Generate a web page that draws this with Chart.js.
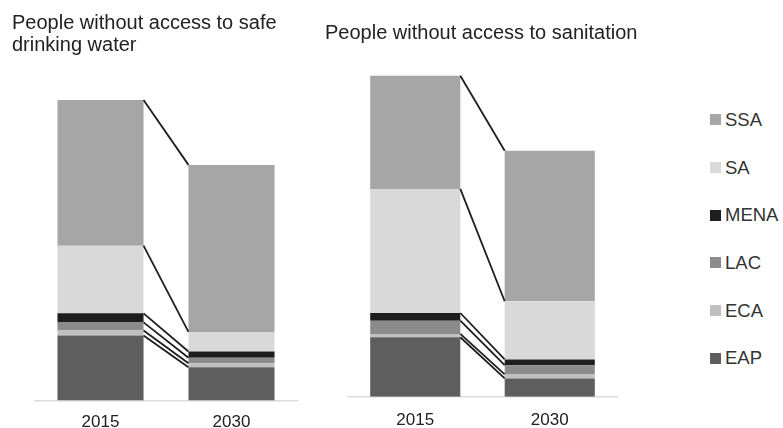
<!DOCTYPE html>
<html>
<head>
<meta charset="utf-8">
<script src="https://cdn.jsdelivr.net/npm/chart.js@4/dist/chart.umd.min.js"></script>
<style>
  html, body { margin: 0; padding: 0; background: #fff; overflow: hidden; }
  #wrap { position: relative; width: 783px; height: 428px; }
  #c1 { position: absolute; left: 0; top: 0; }
  #c2 { position: absolute; left: 320px; top: 0; }
  #legend { position: absolute; left: 710px; top: 96px; font-family: "Liberation Sans", Arial, sans-serif; font-size: 18.5px; color: #333; }
  #legend div { height: 47.7px; display: flex; align-items: center; }
  #legend span.box { display: inline-block; width: 11px; height: 11px; margin-right: 4px; }
</style>
</head>
<body>
<div id="wrap">
  <canvas id="c1" width="320" height="428"></canvas>
  <canvas id="c2" width="320" height="428"></canvas>
  <div id="legend"></div>
</div>
<script>
// millions of people
const years = ['2015', '2030'];
const regions = ['EAP', 'ECA', 'LAC', 'MENA', 'SA', 'SSA'];
const regionColors = ['#5e5e5e', '#c0c0c0', '#8b8b8b', '#1e1e1e', '#d9d9d9', '#a6a6a6'];

const water2015 = [143, 11, 18, 20, 149, 321];
const water2030 = [73, 9, 12, 14, 43, 368];
const sanitation2015 = [445, 25, 99, 57, 927, 845];
const sanitation2030 = [137, 30, 69, 43, 435, 1124];

const FONT = '"Liberation Sans", Arial, sans-serif';

// lines joining the top of each segment between the two bars
const connectors = {
    id: 'connectors',
    afterDatasetsDraw(chart) {
        const ctx = chart.ctx;
        ctx.save();
        ctx.strokeStyle = '#1e1e1e';
        ctx.lineWidth = 1.8;
        chart.data.datasets.forEach((ds, i) => {
            const bars = chart.getDatasetMeta(i).data;
            const a = bars[0], b = bars[1];
            ctx.beginPath();
            ctx.moveTo(a.x + a.width / 2, a.y);
            ctx.lineTo(b.x - b.width / 2, b.y);
            ctx.stroke();
        });
        ctx.restore();
    }
};

// empty side axes just to reserve space next to the plot
function spacer(position, width) {
    return {
        position,
        display: true,
        grid: { display: false },
        border: { display: false },
        ticks: { display: false },
        afterFit(scale) { scale.width = width; }
    };
}

function makeChart(id, title, first, second, opts) {
    const datasets = regions.map((r, i) => ({
        label: r,
        data: [first[i], second[i]],
        backgroundColor: regionColors[i],
        borderWidth: 0,
        categoryPercentage: 1,
        barPercentage: opts.barPct
    }));
    return new Chart(document.getElementById(id), {
        type: 'bar',
        data: { labels: years, datasets },
        plugins: [connectors],
        options: {
            responsive: false,
            animation: false,
            layout: { padding: { left: opts.padLeft, right: 0, top: 0, bottom: opts.padBottom } },
            plugins: {
                legend: { display: false },
                tooltip: { enabled: false },
                title: {
                    display: true,
                    text: title,
                    align: 'start',
                    color: '#222',
                    font: { family: FONT, size: 20, weight: 'normal', lineHeight: 1.1 },
                    padding: opts.titlePad
                }
            },
            scales: {
                x: {
                    stacked: true,
                    grid: { display: false, drawTicks: false },
                    border: { display: true, color: '#dcdcdc', width: 1.5 },
                    ticks: { color: '#222', padding: opts.tickPad, font: { family: FONT, size: 17, lineHeight: 1 } }
                },
                y: Object.assign(spacer('left', 23), { stacked: true, min: 0, max: opts.max }),
                yRight: spacer('right', 23)
            }
        }
    });
}

makeChart('c1', ['People without access to safe', 'drinking water'], water2015, water2030,
    { barPct: 0.657, padLeft: 12, padBottom: -16.5, max: 728, tickPad: 13.5,
      titlePad: { top: 12, bottom: 14 } });
makeChart('c2', 'People without access to sanitation', sanitation2015, sanitation2030,
    { barPct: 0.67, padLeft: 5, padBottom: -15.8, max: 2516, tickPad: 15,
      titlePad: { top: 22, bottom: 16 } });

// legend, top to bottom in reverse stack order
const legend = document.getElementById('legend');
regions.slice().reverse().forEach((r) => {
    const i = regions.indexOf(r);
    const row = document.createElement('div');
    const box = document.createElement('span');
    box.className = 'box';
    box.style.background = regionColors[i];
    row.appendChild(box);
    row.appendChild(document.createTextNode(r));
    legend.appendChild(row);
});
</script>
</body>
</html>
